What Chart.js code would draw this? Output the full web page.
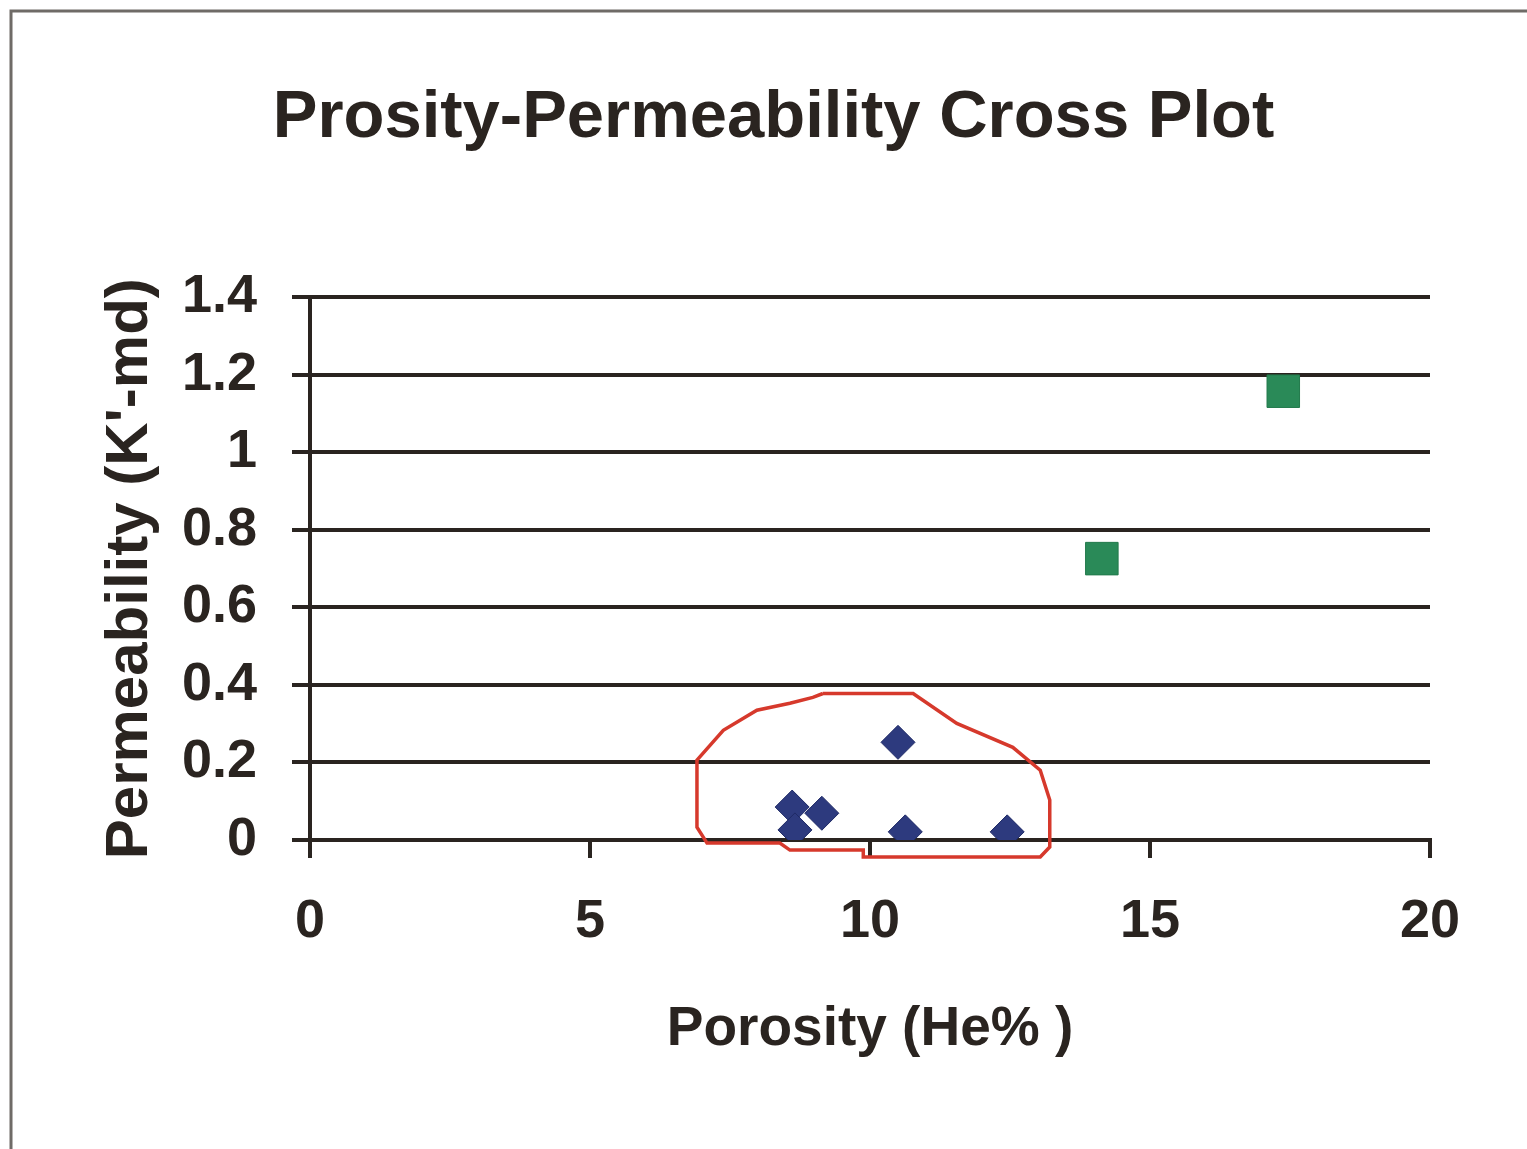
<!DOCTYPE html>
<html>
<head>
<meta charset="utf-8">
<script src="https://cdn.jsdelivr.net/npm/chart.js@4.4.0/dist/chart.umd.min.js"></script>
<style>
  html, body { margin: 0; padding: 0; background: #fff; }
  #wrap { width: 1527px; height: 1149px; }
</style>
</head>
<body>
<div id="wrap"><canvas id="chart"></canvas></div>
<script>
// samples inside the red outline
const porosityBlue = [8.61, 9.14, 8.66, 10.5, 10.63, 12.45];
const permBlue = [0.085, 0.069, 0.026, 0.252, 0.021, 0.021];
// the two high-permeability samples
const porosityGreen = [14.14, 17.38];
const permGreen = [0.726, 1.158];
// hand-drawn red outline round the low-permeability group
const outlineX = [9.16, 10.77, 11.55, 12.55, 13.04, 13.21, 13.21, 13.04, 9.88, 9.88, 8.57, 8.39, 7.09, 6.91, 6.91, 7.38, 7.98, 8.57, 8.98, 9.16];
const outlineY = [0.378, 0.378, 0.301, 0.239, 0.180, 0.103, -0.018, -0.044, -0.044, -0.026, -0.026, -0.008, -0.008, 0.033, 0.206, 0.283, 0.335, 0.353, 0.368, 0.378];

const xTicks = [0, 5, 10, 15, 20];
const yTicks = [0, 0.2, 0.4, 0.6, 0.8, 1, 1.2, 1.4];

const ink = '#2a2420';
const toPoints = (xs, ys) => xs.map((x, i) => ({ x: x, y: ys[i] }));

// grey frame on the top and left edges
const framePlugin = {
  id: 'frame',
  afterDraw(chart) {
    const ctx = chart.ctx;
    ctx.save();
    ctx.strokeStyle = '#6f6b67';
    ctx.lineWidth = 3;
    ctx.beginPath();
    ctx.moveTo(11, chart.height);
    ctx.lineTo(11, 11);
    ctx.lineTo(chart.width, 11);
    ctx.stroke();
    ctx.restore();
  }
};

new Chart(document.getElementById('chart'), {
  type: 'scatter',
  data: {
    datasets: [
      {
        label: 'outline',
        data: toPoints(outlineX, outlineY),
        showLine: true,
        borderColor: '#d6392c',
        borderWidth: 3.5,
        pointRadius: 0,
        fill: false,
        clip: false,
        order: 3
      },
      {
        label: 'blue',
        data: toPoints(porosityBlue, permBlue),
        pointStyle: 'rectRot',
        pointRadius: 17,
        backgroundColor: '#2d3a7e',
        borderColor: '#1f2a66',
        borderWidth: 1,
        order: 1
      },
      {
        label: 'green',
        data: toPoints(porosityGreen, permGreen),
        pointStyle: 'rect',
        pointRadius: 23,
        backgroundColor: '#2a8a58',
        borderColor: '#237a4c',
        borderWidth: 1,
        order: 2
      }
    ]
  },
  options: {
    responsive: true,
    maintainAspectRatio: false,
    animation: false,
    layout: { padding: { left: 20, right: 0, top: 0, bottom: 0 } },
    plugins: {
      legend: { display: false },
      tooltip: { enabled: false },
      title: {
        display: true,
        text: 'Prosity-Permeability Cross Plot',
        color: ink,
        font: { family: 'Liberation Sans', size: 67, weight: 'bold' },
        padding: { top: 78, bottom: 139 }
      }
    },
    scales: {
      x: {
        type: 'linear',
        min: 0,
        max: 20,
        afterFit(scale) { scale.height = 309; },
        afterBuildTicks(scale) { scale.ticks = xTicks.map(v => ({ value: v })); },
        grid: { drawOnChartArea: false, drawTicks: true, tickLength: 18, color: ink, lineWidth: 4 },
        border: { display: true, color: ink, width: 4 },
        ticks: {
          color: ink,
          padding: 32,
          font: { family: 'Liberation Sans', size: 54, weight: 'bold' }
        },
        title: {
          display: true,
          text: 'Porosity (He% )',
          color: ink,
          font: { family: 'Liberation Sans', size: 55, weight: 'bold' },
          padding: { top: 0, bottom: 86 }
        }
      },
      y: {
        type: 'linear',
        min: 0,
        max: 1.4,
        afterFit(scale) { scale.width = 290; },
        afterBuildTicks(scale) { scale.ticks = yTicks.map(v => ({ value: v })); },
        grid: { drawOnChartArea: true, drawTicks: true, tickLength: 18, color: ink, lineWidth: 4 },
        border: { display: true, color: ink, width: 4 },
        ticks: {
          color: ink,
          padding: 35,
          font: { family: 'Liberation Sans', size: 54, weight: 'bold' },
          callback: (v) => String(v)
        },
        title: {
          display: true,
          text: "Permeability (K'-md)",
          color: ink,
          font: { family: 'Liberation Sans', size: 60, weight: 'bold' },
          padding: { top: 74, bottom: 0 }
        }
      },
      // empty right-hand margin so the title centres like the original
      yRight: {
        type: 'linear',
        position: 'right',
        afterFit(scale) { scale.width = 97; },
        grid: { display: false, drawTicks: false },
        border: { display: false },
        ticks: { display: false }
      }
    }
  },
  plugins: [framePlugin]
});
</script>
</body>
</html>
